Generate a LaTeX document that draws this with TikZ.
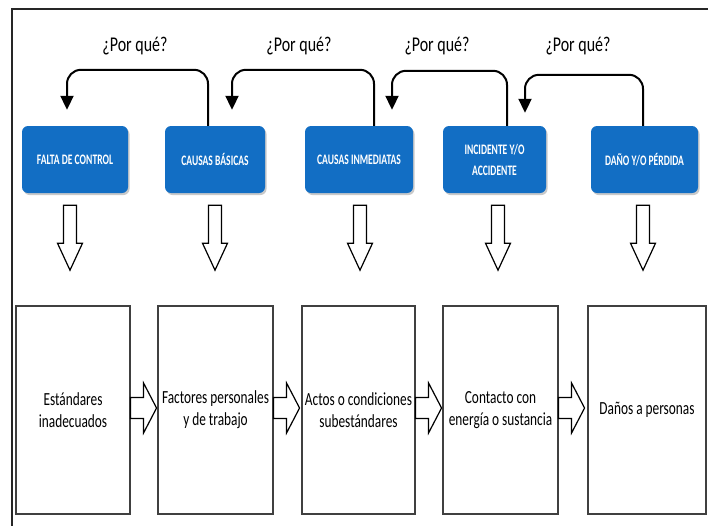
\documentclass[tikz,border=0pt]{standalone}
\usepackage{fontspec}
\setmainfont{Carlito}
\newfontfamily\labf{Carlito}[FakeStretch=0.76]
\newfontfamily\boxtf{Carlito}[FakeStretch=0.66]
\newfontfamily\bottf{Carlito}[FakeStretch=0.72]
\usetikzlibrary{calc,arrows.meta,shadows}
\definecolor{bblue}{RGB}{18,110,196}
\tikzset{
  topbox/.style={draw=none, fill=bblue, rounded corners=6pt, minimum height=67pt,
    text=white, align=center, inner sep=2pt,
    font=\boxtf\bfseries\fontsize{14.5}{21}\selectfont,
    drop shadow={shadow xshift=1.5pt, shadow yshift=-2pt, opacity=0.35, fill=black!60}},
  botbox/.style={draw=black!75, line width=1.1pt, minimum height=208pt, align=center,
    inner sep=1pt, font=\bottf\fontsize{18.5}{22}\selectfont},
  blockarr/.style={draw=black, line width=1.2pt, fill=white, line join=miter},
  why/.style={draw=black, line width=2pt, rounded corners=14pt, -{Triangle[width=13pt,length=14pt]}},
  whylab/.style={font=\labf\fontsize{21}{22}\selectfont, inner sep=0pt}
}
\newcommand\dnarrow[1]{\draw[blockarr] ($(#1)+(-6.5,0)$) -- ($(#1)+(-6.5,38)$) -- ($(#1)+(-12.5,38)$) -- ($(#1)+(0,65)$) -- ($(#1)+(12.5,38)$) -- ($(#1)+(6.5,38)$) -- ($(#1)+(6.5,0)$) -- cycle;}
\newcommand\rtarrow[1]{\draw[blockarr] ($(#1)+(0,-10.5)$) -- ($(#1)+(13,-10.5)$) -- ($(#1)+(13,-25)$) -- ($(#1)+(26,0)$) -- ($(#1)+(13,25)$) -- ($(#1)+(13,10.5)$) -- ($(#1)+(0,10.5)$) -- cycle;}
\begin{document}
\begin{tikzpicture}[x=1pt,y=-1pt]
\useasboundingbox (0,0) rectangle (708,525);
\fill[white] (0,0) rectangle (708,525);
\draw[black!85, line width=1.2pt] (12,540) -- (12,9) -- (720,9);
% top boxes
\node[topbox, minimum width=106pt] (a) at (75,159.5) {FALTA DE CONTROL};
\node[topbox, minimum width=100pt] (b) at (215,159.5) {CAUSAS BÁSICAS};
\node[topbox, minimum width=108pt] (c) at (359,159.5) {CAUSAS INMEDIATAS};
\node[topbox, minimum width=103pt] (d) at (494.5,159.5) {INCIDENTE Y/O\\ACCIDENTE};
\node[topbox, minimum width=107pt] (e) at (644.5,159.5) {DAÑO Y/O PÉRDIDA};
% bottom boxes
\node[botbox, minimum width=114pt] (p1) at (73,410) {Estándares\\inadecuados};
\node[botbox, minimum width=115pt] (p2) at (215.5,410) {Factores personales\\y de trabajo};
\node[botbox, minimum width=113pt] (p3) at (358.5,410) {Actos o condiciones\\subestándares};
\node[botbox, minimum width=115pt] (p4) at (500.5,410) {Contacto con\\energía o sustancia};
\node[botbox, minimum width=118pt] (p5) at (647,410) {Daños a personas};
% why arrows
\draw[why] ($(b.north)+(-7,0)$) |- ($(a.north)+(-8,-56)$) -- ($(a.north)+(-8,-16)$);
\draw[why] ($(c.north)+(15,0)$) |- ($(b.north)+(17,-56)$) -- ($(b.north)+(17,-16)$);
\draw[why] ($(d.north)+(12.5,0)$) |- ($(c.north)+(33,-55)$) -- ($(c.north)+(33,-16)$);
\draw[why] ($(e.north)+(-1.5,0)$) |- ($(d.north)+(30.5,-51)$) -- ($(d.north)+(30.5,-13)$);
\node[whylab] (w1) at (135,46) {¿Por qué?};
\node[whylab] (w2) at (299,46) {¿Por qué?};
\node[whylab] (w3) at (437,46) {¿Por qué?};
\node[whylab] (w4) at (578,46) {¿Por qué?};
% down block arrows
\coordinate (da) at ($(a.south)+(-5,12)$);
\coordinate (db) at ($(b.south)+(0,12)$);
\coordinate (dc) at ($(c.south)+(1,12)$);
\coordinate (dd) at ($(d.south)+(3.5,12)$);
\coordinate (de) at ($(e.south)+(-1.5,12)$);
\dnarrow{da}\dnarrow{db}\dnarrow{dc}\dnarrow{dd}\dnarrow{de}
% right block arrows
\coordinate (r1) at ($(p1.east)+(0,-2)$);
\coordinate (r2) at ($(p2.east)+(0,-2)$);
\coordinate (r3) at ($(p3.east)+(0,-2)$);
\coordinate (r4) at ($(p4.east)+(0,-2)$);
\rtarrow{r1}\rtarrow{r2}\rtarrow{r3}\rtarrow{r4}
\end{tikzpicture}
\end{document}
